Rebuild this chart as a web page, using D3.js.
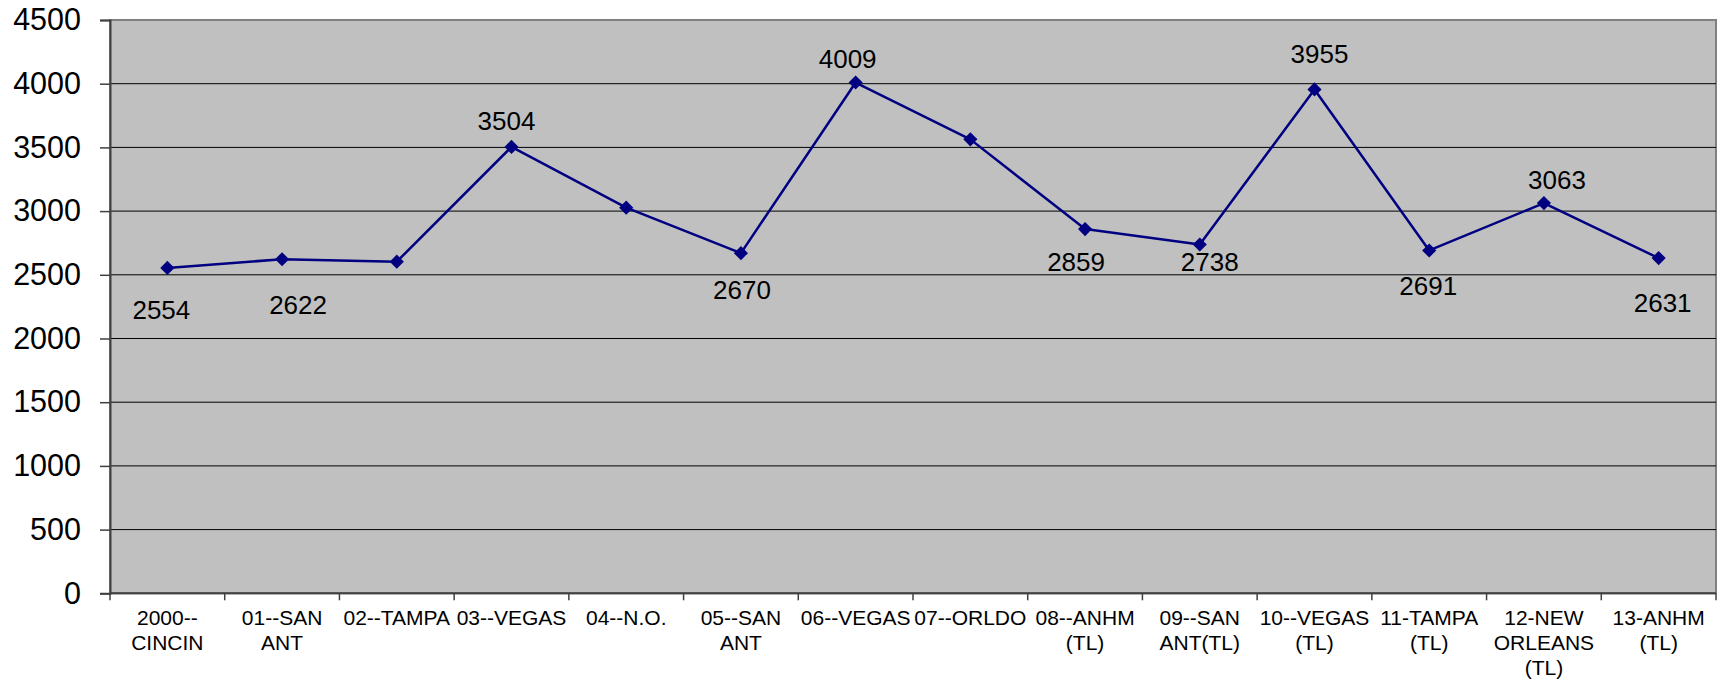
<!DOCTYPE html>
<html>
<head>
<meta charset="utf-8">
<script src="https://cdn.jsdelivr.net/npm/d3@7/dist/d3.min.js"></script>
<style>
  html, body { margin: 0; padding: 0; background: #ffffff; }
  svg { display: block; font-family: "Liberation Sans", Arial, sans-serif; }
</style>
</head>
<body>
<svg id="chart" width="1726" height="682"></svg>
<script>
// Attendance by convention year and city
const categories = [
  "2000--\nCINCIN", "01--SAN\nANT", "02--TAMPA", "03--VEGAS", "04--N.O.",
  "05--SAN\nANT", "06--VEGAS", "07--ORLDO", "08--ANHM\n(TL)", "09--SAN\nANT(TL)",
  "10--VEGAS\n(TL)", "11-TAMPA\n(TL)", "12-NEW\nORLEANS\n(TL)", "13-ANHM\n(TL)"
];
const values = [2554, 2622, 2603, 3504, 3027, 2670, 4009, 3563, 2859, 2738, 3955, 2691, 3063, 2631];
const labelShown = [true, true, false, true, false, true, true, false, true, true, true, true, true, true];
const yTicks = [0, 500, 1000, 1500, 2000, 2500, 3000, 3500, 4000, 4500];

const svg = d3.select("#chart");
const W = 1726, H = 682;
const plot = { left: 110, top: 20, right: 1716, bottom: 593.3 };

const x = d3.scaleBand()
  .domain(d3.range(categories.length))
  .range([plot.left, plot.right])
  .padding(0);
const y = d3.scaleLinear()
  .domain([0, 4500])
  .range([plot.bottom, plot.top]);
const cx = i => x(i) + x.bandwidth() / 2;

svg.append("rect").attr("width", W).attr("height", H).attr("fill", "#ffffff");

// plot area
svg.append("rect")
  .attr("x", plot.left).attr("y", plot.top)
  .attr("width", plot.right - plot.left).attr("height", plot.bottom - plot.top)
  .attr("fill", "#c0c0c0")
  .attr("stroke", "#808080").attr("stroke-width", 2);

// horizontal gridlines
svg.append("g").selectAll("line")
  .data(yTicks.filter(t => t > 0 && t < 4500))
  .join("line")
  .attr("x1", plot.left).attr("x2", plot.right)
  .attr("y1", d => y(d)).attr("y2", d => y(d))
  .attr("stroke", "#000000").attr("stroke-width", 1);

// y axis
const yAxis = svg.append("g")
  .attr("transform", `translate(${plot.left},0)`)
  .call(d3.axisLeft(y).tickValues(yTicks).tickSize(10).tickPadding(19).tickFormat(d3.format("d")));
yAxis.select(".domain").attr("stroke", "#404040").attr("stroke-width", 2);
yAxis.selectAll(".tick line").attr("stroke", "#404040").attr("stroke-width", 1.5);
yAxis.selectAll(".tick text")
  .attr("font-family", "'Liberation Sans', Arial, sans-serif")
  .attr("font-size", 30.5).attr("fill", "#000000");

// x axis: line and ticks at category boundaries
const xAxis = svg.append("g");
xAxis.append("line")
  .attr("x1", plot.left).attr("x2", plot.right)
  .attr("y1", plot.bottom).attr("y2", plot.bottom)
  .attr("stroke", "#404040").attr("stroke-width", 2);
xAxis.selectAll("line.tick")
  .data(d3.range(categories.length + 1))
  .join("line")
  .attr("class", "tick")
  .attr("x1", i => i < categories.length ? x(i) : plot.right)
  .attr("x2", i => i < categories.length ? x(i) : plot.right)
  .attr("y1", plot.bottom).attr("y2", plot.bottom + 7)
  .attr("stroke", "#404040").attr("stroke-width", 1.5);

const xl = svg.append("g")
  .attr("font-size", 21).attr("fill", "#000000").attr("text-anchor", "middle");
categories.forEach((c, i) => {
  const t = xl.append("text").attr("x", cx(i)).attr("y", 625);
  c.split("\n").forEach((line, k) => {
    t.append("tspan").attr("x", cx(i)).attr("dy", k === 0 ? 0 : 25).text(line);
  });
});

// series line
svg.append("path")
  .datum(values)
  .attr("fill", "none")
  .attr("stroke", "#000080")
  .attr("stroke-width", 2.5)
  .attr("stroke-linejoin", "round")
  .attr("d", d3.line().x((d, i) => cx(i)).y(d => y(d)));

// diamond markers
svg.append("g").selectAll("path")
  .data(values)
  .join("path")
  .attr("transform", (d, i) => `translate(${cx(i)},${y(d)}) rotate(45)`)
  .attr("d", d3.symbol(d3.symbolSquare, 100))
  .attr("fill", "#000080");

// value labels, placed above or below each point
const labelOffsets = [
  [-6, 51], [16, 55], [0, 0], [-5, -17], [0, 0], [1, 46], [-8, -15],
  [0, 0], [-9, 42], [10, 27], [5, -26], [-1, 45], [13, -14], [4, 54]
];
svg.append("g")
  .attr("font-size", 26).attr("fill", "#000000").attr("text-anchor", "middle")
  .selectAll("text")
  .data(values.map((v, i) => ({ v, i })).filter(d => labelShown[d.i]))
  .join("text")
  .attr("x", d => cx(d.i) + labelOffsets[d.i][0])
  .attr("y", d => y(d.v) + labelOffsets[d.i][1])
  .text(d => d.v);
</script>
</body>
</html>
